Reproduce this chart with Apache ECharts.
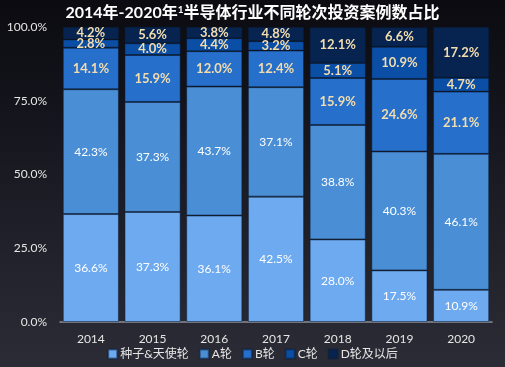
<!DOCTYPE html>
<html>
<head>
<meta charset="utf-8">
<script src="https://cdn.jsdelivr.net/npm/echarts@6/dist/echarts.min.js"></script>
<style>
html,body{margin:0;padding:0;width:505px;height:367px;overflow:hidden;}
#c{width:505px;height:367px;background:linear-gradient(to bottom,#0b0b11 0%,#1a1b23 50%,#2b2c35 100%);}
</style>
</head>
<body>
<div id="c"></div>
<script>
const categories = ['2014','2015','2016','2017','2018','2019','2020'];
const seedAngel = [36.6, 37.3, 36.1, 42.5, 28.0, 17.5, 10.9];
const roundA    = [42.3, 37.3, 43.7, 37.1, 38.8, 40.3, 46.1];
const roundB    = [14.1, 15.9, 12.0, 12.4, 15.9, 24.6, 21.1];
const roundC    = [2.8, 4.0, 4.4, 3.2, 5.1, 10.9, 4.7];
const roundD    = [4.2, 5.6, 3.8, 4.8, 12.1, 6.6, 17.2];
const yTicks = [0, 25, 50, 75, 100];
const seriesNames = ['种子&天使轮','A轮','B轮','C轮','D轮及以后'];

const FONT = 'Lato, "Noto Sans CJK SC", sans-serif';
const colors = ['#6eaaf0','#4a8fd6','#2670cc','#0b4ea6','#06244f'];
const labelColors = ['#ffffff','#ffffff','#f3dcae','#f3dcae','#f3dcae'];
const labelWeights = ['normal','normal','bold','bold','bold'];
const labelSizes = [12,12,13,13,13];
const dataSets = [seedAngel, roundA, roundB, roundC, roundD];

const chart = echarts.init(document.getElementById('c'), null, {renderer:'canvas'});
chart.setOption({
  backgroundColor: 'transparent',
  textStyle: {fontFamily: FONT},
  title: {
    text: '{t|2014年-2020年}{s|1}{t|半导体行业不同轮次投资案例数占比}',
    left: 'center', top: 0,
    textStyle: {
      rich: {
        t: {fontSize: 16, fontWeight: 'bold', color: '#ffffff', fontFamily: FONT},
        s: {fontSize: 10, fontWeight: 'bold', color: '#ffffff', fontFamily: FONT, verticalAlign: 'top', padding:[0,0,6,0]}
      }
    }
  },
  legend: {
    bottom: 2, left: 'center',
    itemWidth: 9, itemHeight: 9, itemGap: 10,
    icon: 'rect',
    textStyle: {color: '#e6e6e6', fontSize: 12, fontFamily: FONT, padding:[0,0,0,-2]},
    data: seriesNames
  },
  grid: {left: 60, right: 13, top: 27, bottom: 45},
  xAxis: {
    type: 'category', data: categories,
    axisLine: {lineStyle: {color: '#8a8d96', width: 1.5}},
    axisTick: {show: false},
    axisLabel: {color: '#e6e6e6', fontSize: 12, margin: 11, fontFamily: FONT}
  },
  yAxis: {
    type: 'value', min: 0, max: 100, interval: 25,
    splitLine: {show: false},
    axisLine: {show: false}, axisTick: {show: false},
    axisLabel: {color: '#e6e6e6', fontSize: 12, margin: 13, fontFamily: FONT,
      formatter: v => yTicks.includes(v) ? v.toFixed(1) + '%' : ''}
  },
  series: dataSets.map((d, i) => ({
    name: seriesNames[i], type: 'bar', stack: 'total',
    barCategoryGap: '9%',
    data: d,
    itemStyle: {color: colors[i], borderColor: 'rgba(10,30,60,0.5)', borderWidth: 1},
    label: {
      show: true, position: 'inside',
      color: labelColors[i], fontSize: labelSizes[i], fontWeight: labelWeights[i], fontFamily: FONT,
      formatter: p => p.value.toFixed(1) + '%'
    }
  }))
});
</script>
</body>
</html>
